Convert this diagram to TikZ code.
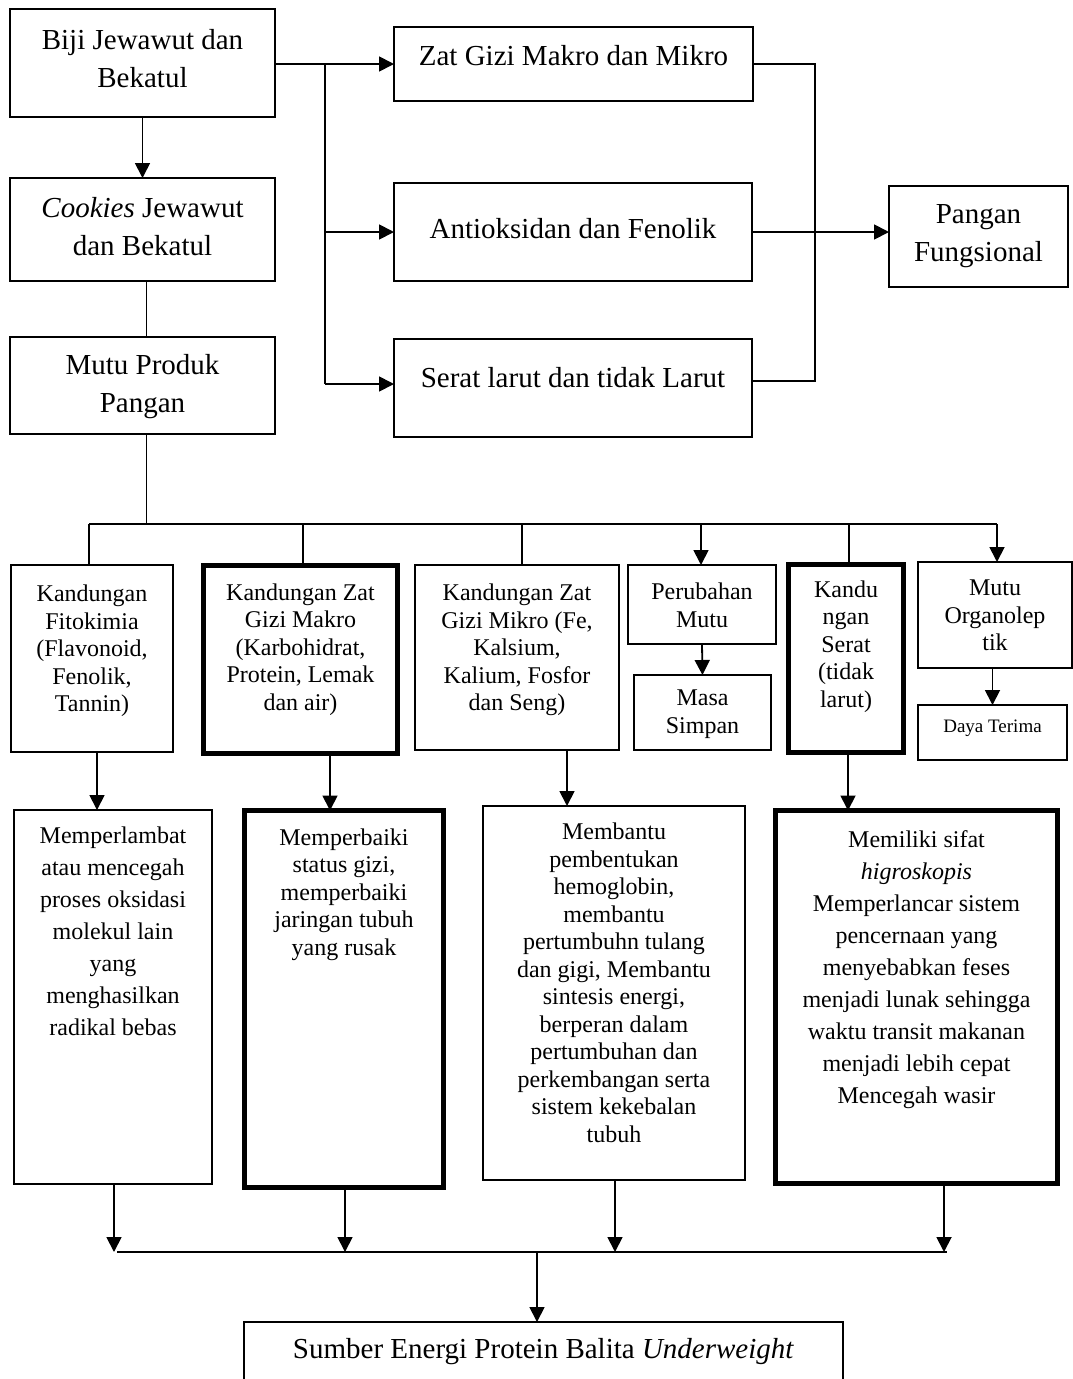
\documentclass[tikz,border=0pt]{standalone}
\usepackage{fontspec}
\setmainfont{Liberation Serif}
\usetikzlibrary{arrows.meta,fit}
\tikzset{
  box/.style={draw, line width=1.8pt, inner sep=0pt, outer sep=0pt},
  boldbox/.style={box, line width=5.5pt},
  ln/.style={line width=1.8pt},
  arr/.style={ln, -{Triangle[length=15pt,width=15pt]}},
  tA/.style={align=center, inner sep=0pt, font=\fontsize{29}{38}\selectfont},
  tB/.style={align=center, inner sep=0pt, font=\fontsize{24}{27.5}\selectfont},
  tC/.style={align=center, inner sep=0pt, font=\fontsize{24}{32}\selectfont},
  tD/.style={align=center, inner sep=0pt, font=\fontsize{19}{22}\selectfont},
}
\begin{document}
\begin{tikzpicture}[x=1pt,y=-1pt]
\useasboundingbox (0,0) rectangle (1073,1379);
\clip (0,0) rectangle (1073,1379);
\fill[white] (0,0) rectangle (1073,1379);

% left column
\node[box, fit={(10,9) (275,117)}] (b1) {};
\node[tA] (b1t) at (142.5,59) {Biji Jewawut dan\\Bekatul};
\node[box, fit={(10,178) (275,281)}] (b2) {};
\node[tA] (b2t) at (142.5,227) {\textit{Cookies} Jewawut\\dan Bekatul};
\node[box, fit={(10,337) (275,434)}] (b3) {};
\node[tA] (b3t) at (142.5,387) {Mutu Produk\\Pangan};

% middle column
\node[box, fit={(394,27) (753,101)}] (zat) {};
\node[tA] (zatt) at (573.5,56) {Zat Gizi Makro dan Mikro};
\node[box, fit={(394,183) (752,281)}] (ant) {};
\node[tA] (antt) at (573,229) {Antioksidan dan Fenolik};
\node[box, fit={(394,339) (752,437)}] (ser) {};
\node[tA] (sert) at (573,378) {Serat larut dan tidak Larut};
\node[box, fit={(889,186) (1068,287)}] (pf) {};
\node[tA] (pft) at (978.5,236) {Pangan\\Fungsional};

% top connectors
\draw[arr] (b1.south) -- (b2.north);
\coordinate (st2) at ([xshift=4pt]b2.south);
\draw[ln] (st2) -- (st2 |- b3.north);
\coordinate (j1) at (325,64);
\coordinate (j3) at (325,384);
\draw[arr] (b1.east |- j1) -- (zat.west |- j1);
\draw[ln] (j1) -- (j3);
\draw[arr] (j1 |- ant.west) -- (ant.west);
\draw[arr] (j3) -- (ser.west |- j3);
\coordinate (r2) at (815,381);
\draw[ln] (zat.east) -| (r2) -- (r2 -| ser.east);
\draw[arr] (ant.east) -- (pf.west |- ant.east);

% bus
\coordinate (busL) at (89,524);
\coordinate (busR) at (997,524);
\coordinate (st3) at ([xshift=4pt]b3.south);
\draw[ln] (st3) -- (st3 |- busL);
\draw[ln] (busL) -- (busR);
\coordinate (d2) at (303,524);
\coordinate (d3) at (522,524);
\coordinate (d4) at (701,524);
\coordinate (d5) at (849,524);

% row 2
\node[box, fit={(11,565) (173,752)}] (fito) {};
\node[tB, anchor=north] (fitot) at ([yshift=-20pt]fito.north) {Kandungan\\Fitokimia\\(Flavonoid,\\Fenolik,\\Tannin)};
\node[boldbox, fit={(203.5,565.5) (397.5,753.5)}] (makro) {};
\node[tB, anchor=north] (makrot) at ([yshift=-18pt]makro.north) {Kandungan Zat\\Gizi Makro\\(Karbohidrat,\\Protein, Lemak\\dan air)};
\node[box, fit={(415,565) (619,750)}] (mikro) {};
\node[tB, anchor=north] (mikrot) at ([yshift=-19pt]mikro.north) {Kandungan Zat\\Gizi Mikro (Fe,\\Kalsium,\\Kalium, Fosfor\\dan Seng)};
\node[box, fit={(628,565) (776,644)}] (peru) {};
\node[tB, anchor=north] (perut) at ([yshift=-18pt]peru.north) {Perubahan\\Mutu};
\node[box, fit={(634,675) (771,750)}] (masa) {};
\node[tB] (masat) at (702.5,714) {Masa\\Simpan};
\node[boldbox, fit={(788.5,564.5) (903.5,752.5)}] (serat) {};
\node[tB, anchor=north] (seratt) at ([yshift=-16pt]serat.north) {Kandu\\ngan\\Serat\\(tidak\\larut)};
\node[box, fit={(918,562) (1072,668)}] (org) {};
\node[tB, anchor=north] (orgt) at ([yshift=-18pt]org.north) {Mutu\\Organolep\\tik};
\node[box, fit={(918,705) (1067,760)}] (daya) {};
\node[tD] (dayat) at (992.5,728) {Daya Terima};

% row 2 connectors
\draw[ln] (busL) -- (busL |- fito.north);
\draw[ln] (d2) -- (d2 |- makro.north);
\draw[ln] (d3) -- (d3 |- mikro.north);
\draw[arr] (d4) -- (d4 |- peru.north);
\draw[ln] (d5) -- (d5 |- serat.north);
\draw[arr] (busR) -- (busR |- org.north);
\draw[arr] (peru.south) -- (masa.north);
\draw[arr] (daya.north |- org.south) -- (daya.north);

% row 3
\node[box, fit={(14,810) (212,1184)}] (mp) {};
\node[tC, anchor=north] (mpt) at ([yshift=-17pt]mp.north) {Memperlambat\\atau mencegah\\proses oksidasi\\molekul lain\\yang\\menghasilkan\\radikal bebas};
\node[boldbox, fit={(244.5,810.5) (443.5,1187.5)}] (mb) {};
\node[tB, anchor=north] (mbt) at ([yshift=-18pt]mb.north) {Memperbaiki\\status gizi,\\memperbaiki\\jaringan tubuh\\yang rusak};
\node[box, fit={(483,806) (745,1180)}] (mh) {};
\node[tB, anchor=north] (mht) at ([yshift=-17pt]mh.north) {Membantu\\pembentukan\\hemoglobin,\\membantu\\pertumbuhn tulang\\dan gigi, Membantu\\sintesis energi,\\berperan dalam\\pertumbuhan dan\\perkembangan serta\\sistem kekebalan\\tubuh};
\node[boldbox, fit={(775.5,810.5) (1057.5,1183.5)}] (ms) {};
\node[tC, anchor=north] (mst) at ([yshift=-20pt]ms.north) {Memiliki sifat\\\textit{higroskopis}\\Memperlancar sistem\\pencernaan yang\\menyebabkan feses\\menjadi lunak sehingga\\waktu transit makanan\\menjadi lebih cepat\\Mencegah wasir};

% row 2 -> row 3
\draw[arr] (fito.south -| 97,0) -- (mp.north -| 97,0);
\draw[arr] (makro.south -| 330,0) -- (mb.north -| 330,0);
\draw[arr] (mikro.south -| 567,0) -- (mh.north -| 567,0);
\draw[arr] (serat.south -| 848,0) -- (ms.north -| 848,0);

% bottom
\coordinate (eL) at (117,1252);
\coordinate (eR) at (947,1252);
\draw[arr] (mp.south -| 114,0) -- (eL -| 114,0);
\draw[arr] (mb.south -| 345,0) -- (eL -| 345,0);
\draw[arr] (mh.south -| 615,0) -- (eL -| 615,0);
\draw[arr] (ms.south -| 944,0) -- (eL -| 944,0);
\draw[ln] (eL) -- (eR);
\node[box, fit={(244,1322) (843,1400)}] (fin) {};
\node[tA] (fint) at (543.5,1352) {Sumber Energi Protein Balita \textit{Underweight}};
\draw[arr] (eL -| 537,0) -- (fin.north -| 537,0);
\end{tikzpicture}
\end{document}
